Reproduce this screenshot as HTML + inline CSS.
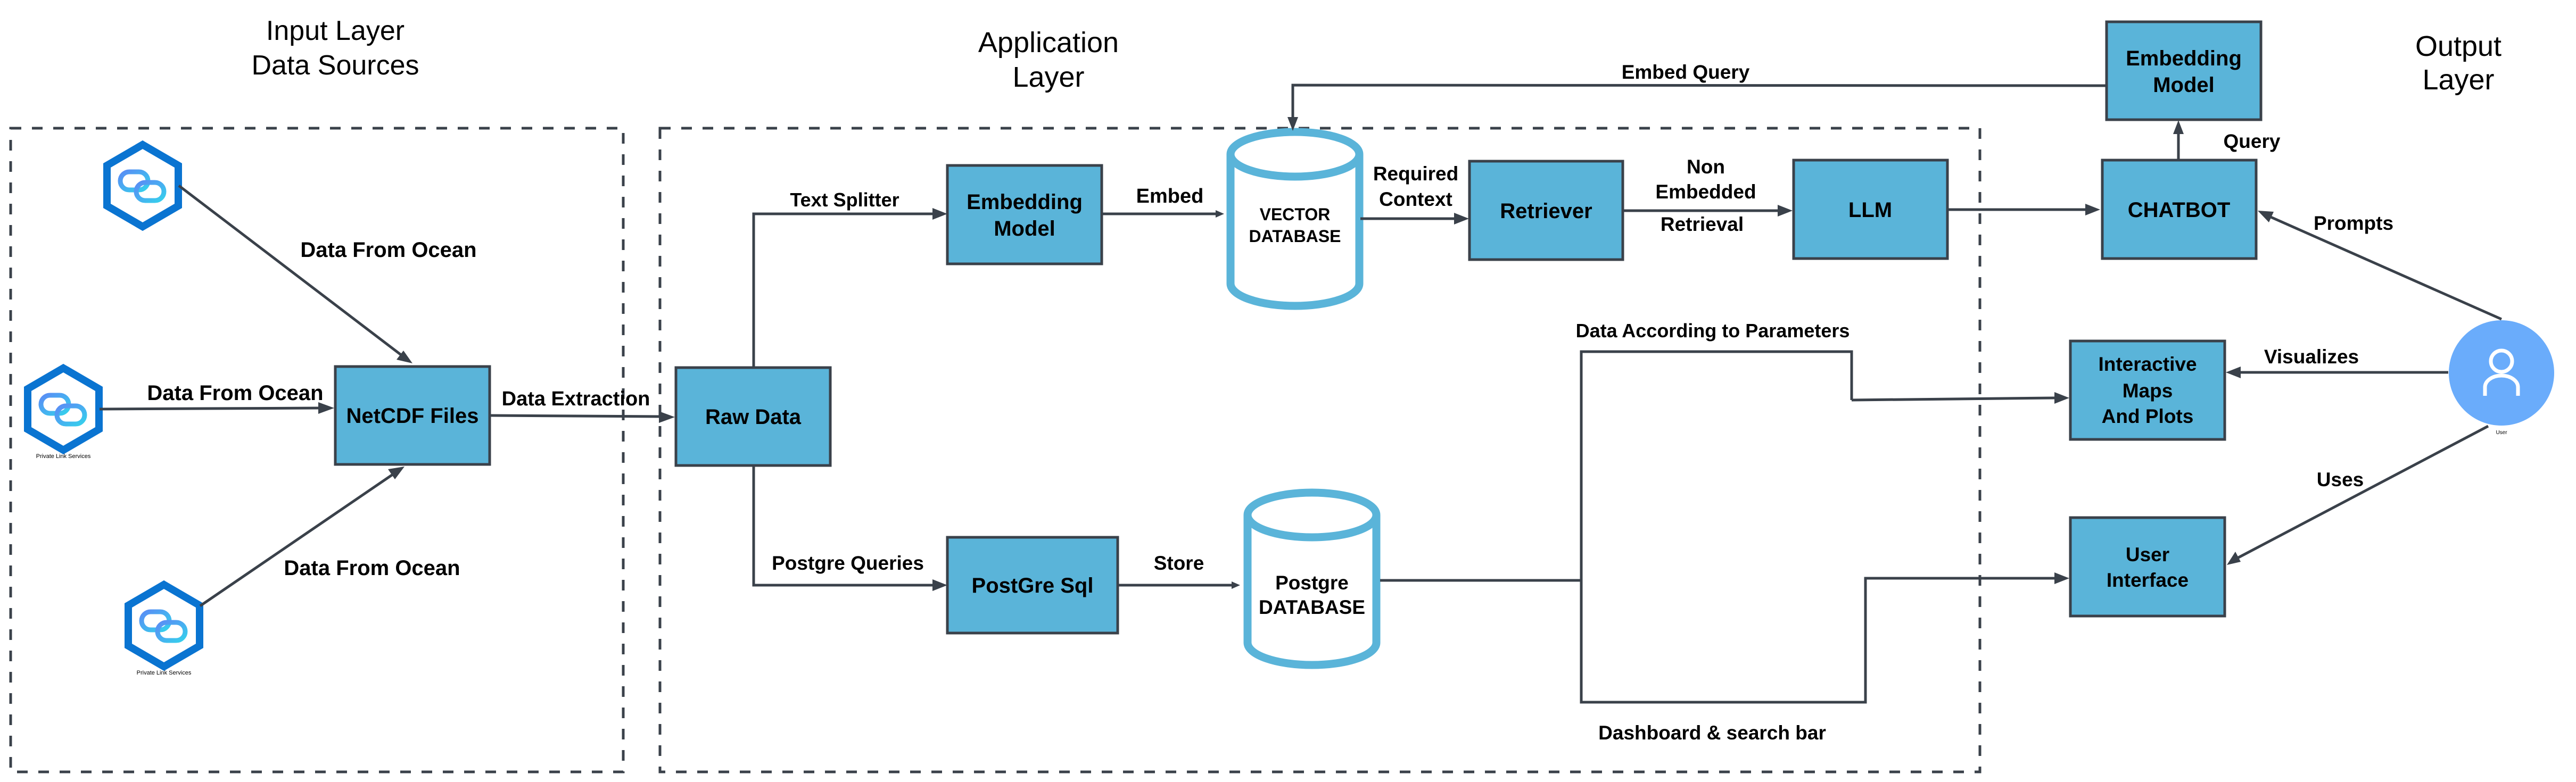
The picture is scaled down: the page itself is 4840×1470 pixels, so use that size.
<!DOCTYPE html>
<html><head><meta charset="utf-8"><style>
html,body{margin:0;padding:0;background:#fff;}
svg{display:block;}
text{font-family:"Liberation Sans",sans-serif;fill:#000;}
.b{font-weight:bold;}
</style></head><body>
<svg width="4840" height="1470" viewBox="0 0 4840 1470" xmlns="http://www.w3.org/2000/svg">
<defs>
<linearGradient id="lg" x1="0" y1="0" x2="1" y2="1"><stop offset="0" stop-color="#5a8cf5"/><stop offset="1" stop-color="#35d0ec"/></linearGradient>
<g id="hex">
<polygon points="0,-77 67,-38 67,38 0,77 -67,38 -67,-38" fill="#fff" stroke="#0a74d1" stroke-width="14"/>
<rect x="-42" y="-26" width="52" height="34" rx="17" fill="none" stroke="url(#lg)" stroke-width="9"/>
<rect x="-12" y="-6" width="52" height="34" rx="17" fill="none" stroke="url(#lg)" stroke-width="9"/>
</g>
</defs>
<style>
.ln{stroke:#3a414a;stroke-width:5;fill:none;}
.bx{fill:#5ab4d9;stroke:#3a414a;stroke-width:5;}
.ah{fill:#3a414a;}
.cy{fill:#fff;stroke:#5ab4d9;stroke-width:15;}
.dash{fill:none;stroke:#3a414a;stroke-width:5;stroke-dasharray:20 20;}
</style>

<text x="630" y="75" font-size="52" text-anchor="middle">Input Layer</text>
<text x="630" y="140" font-size="52" text-anchor="middle">Data Sources</text>
<text x="1970" y="98" font-size="54" text-anchor="middle">Application</text>
<text x="1970" y="163" font-size="54" text-anchor="middle">Layer</text>
<text x="4619" y="105" font-size="54" text-anchor="middle">Output</text>
<text x="4619" y="168" font-size="54" text-anchor="middle">Layer</text>

<rect class="dash" x="20" y="241" width="1151" height="1210"/>
<rect class="dash" x="1240" y="241" width="2480" height="1210"/>

<use href="#hex" x="268" y="349"/>
<use href="#hex" x="119" y="769"/>
<use href="#hex" x="308" y="1176"/>
<text x="119" y="861" font-size="11" text-anchor="middle">Private Link Services</text>
<text x="308" y="1268" font-size="11" text-anchor="middle">Private Link Services</text>

<line class="ln" x1="336" y1="349" x2="760" y2="672"/>
<polygon class="ah" points="775,683 745,676 758,659"/>
<text class="b" x="730" y="483" font-size="40" text-anchor="middle">Data From Ocean</text>
<line class="ln" x1="187" y1="769" x2="600" y2="767"/>
<polygon class="ah" points="628,767 598,756 598,778"/>
<text class="b" x="442" y="752" font-size="40" text-anchor="middle">Data From Ocean</text>
<line class="ln" x1="376" y1="1139" x2="745" y2="887"/>
<polygon class="ah" points="760,877 742,901 729,882"/>
<text class="b" x="699" y="1081" font-size="40" text-anchor="middle">Data From Ocean</text>

<rect class="bx" x="630" y="689" width="290" height="184"/>
<text class="b" x="775" y="795" font-size="40" text-anchor="middle">NetCDF Files</text>

<line class="ln" x1="922" y1="781" x2="1240" y2="783"/>
<polygon class="ah" points="1268,784 1238,773 1238,795"/>
<text class="b" x="1082" y="762" font-size="38" text-anchor="middle">Data Extraction</text>

<rect class="bx" x="1270" y="691" width="290" height="184"/>
<text class="b" x="1415" y="797" font-size="40" text-anchor="middle">Raw Data</text>

<polyline class="ln" points="1416,691 1416,402 1755,402"/>
<polygon class="ah" points="1780,402 1752,391 1752,413"/>
<text class="b" x="1587" y="388" font-size="36" text-anchor="middle">Text Splitter</text>

<rect class="bx" x="1780" y="311" width="290" height="185"/>
<text class="b" x="1925" y="393" font-size="40" text-anchor="middle">Embedding</text>
<text class="b" x="1925" y="443" font-size="40" text-anchor="middle">Model</text>

<line class="ln" x1="2070" y1="402" x2="2285" y2="402"/>
<polygon class="ah" points="2300,402 2284,395 2284,409"/>
<text class="b" x="2198" y="381" font-size="38" text-anchor="middle">Embed</text>

<path class="cy" d="M2312,290 L2312,533 A121,42 0 0 0 2554,533 L2554,290"/>
<ellipse class="cy" cx="2433" cy="290" rx="121" ry="42"/>
<text class="b" x="2433" y="414" font-size="32" text-anchor="middle">VECTOR</text>
<text class="b" x="2433" y="455" font-size="32" text-anchor="middle">DATABASE</text>

<line class="ln" x1="2556" y1="411" x2="2735" y2="411"/>
<polygon class="ah" points="2760,411 2732,400 2732,422"/>
<text class="b" x="2660" y="339" font-size="37" text-anchor="middle">Required</text>
<text class="b" x="2660" y="387" font-size="37" text-anchor="middle">Context</text>

<rect class="bx" x="2761" y="303" width="288" height="185"/>
<text class="b" x="2905" y="410" font-size="40" text-anchor="middle">Retriever</text>

<line class="ln" x1="3049" y1="396" x2="3342" y2="396"/>
<polygon class="ah" points="3368,396 3340,385 3340,407"/>
<text class="b" x="3205" y="326" font-size="37" text-anchor="middle">Non</text>
<text class="b" x="3205" y="373" font-size="37" text-anchor="middle">Embedded</text>
<text class="b" x="3198" y="434" font-size="37" text-anchor="middle">Retrieval</text>

<rect class="bx" x="3370" y="301" width="289" height="185"/>
<text class="b" x="3514" y="408" font-size="40" text-anchor="middle">LLM</text>

<line class="ln" x1="3659" y1="394" x2="3920" y2="394"/>
<polygon class="ah" points="3946,394 3918,383 3918,405"/>

<rect class="bx" x="3950" y="301" width="289" height="185"/>
<text class="b" x="4094" y="408" font-size="40" text-anchor="middle">CHATBOT</text>

<line class="ln" x1="4093" y1="301" x2="4093" y2="250"/>
<polygon class="ah" points="4093,226 4083,252 4103,252"/>
<text class="b" x="4231" y="278" font-size="37" text-anchor="middle">Query</text>

<rect class="bx" x="3958" y="41" width="290" height="184"/>
<text class="b" x="4103" y="123" font-size="40" text-anchor="middle">Embedding</text>
<text class="b" x="4103" y="173" font-size="40" text-anchor="middle">Model</text>

<polyline class="ln" points="3958,161 2429,160 2429,222"/>
<polygon class="ah" points="2429,246 2419,220 2439,220"/>
<text class="b" x="3167" y="148" font-size="37" text-anchor="middle">Embed Query</text>

<polyline class="ln" points="1416,875 1416,1100 1755,1100"/>
<polygon class="ah" points="1780,1100 1752,1089 1752,1111"/>
<text class="b" x="1593" y="1071" font-size="37" text-anchor="middle">Postgre Queries</text>

<rect class="bx" x="1780" y="1010" width="320" height="180"/>
<text class="b" x="1940" y="1114" font-size="40" text-anchor="middle">PostGre Sql</text>

<line class="ln" x1="2100" y1="1100" x2="2315" y2="1100"/>
<polygon class="ah" points="2330,1100 2314,1093 2314,1107"/>
<text class="b" x="2215" y="1071" font-size="37" text-anchor="middle">Store</text>

<path class="cy" d="M2344,968 L2344,1208 A121,42 0 0 0 2586,1208 L2586,968"/>
<ellipse class="cy" cx="2465" cy="968" rx="121" ry="42"/>
<text class="b" x="2465" y="1108" font-size="37" text-anchor="middle">Postgre</text>
<text class="b" x="2465" y="1154" font-size="37" text-anchor="middle">DATABASE</text>

<line class="ln" x1="2593" y1="1091" x2="2971" y2="1091"/>
<polyline class="ln" points="3479,752 3479,661 2971,661 2971,1320 3505,1320 3505,1087 3860,1087"/>
<polyline class="ln" points="3479,752 3860,748"/>
<polygon class="ah" points="3888,748 3860,737 3860,759"/>
<polygon class="ah" points="3888,1087 3860,1076 3860,1098"/>
<text class="b" x="3218" y="634" font-size="36" text-anchor="middle">Data According to Parameters</text>
<text class="b" x="3217" y="1390" font-size="37" text-anchor="middle">Dashboard &amp; search bar</text>

<rect class="bx" x="3890" y="641" width="290" height="185"/>
<text class="b" x="4035" y="697" font-size="37" text-anchor="middle">Interactive</text>
<text class="b" x="4035" y="747" font-size="37" text-anchor="middle">Maps</text>
<text class="b" x="4035" y="795" font-size="37" text-anchor="middle">And Plots</text>

<rect class="bx" x="3890" y="973" width="290" height="185"/>
<text class="b" x="4035" y="1055" font-size="37" text-anchor="middle">User</text>
<text class="b" x="4035" y="1103" font-size="37" text-anchor="middle">Interface</text>

<ellipse cx="4700" cy="701" rx="99" ry="99" fill="#6aacfb"/>
<circle cx="4700" cy="679" r="20" fill="none" stroke="#fff" stroke-width="7"/>
<path d="M4669,744 L4669,728 A31,22 0 0 1 4731,728 L4731,744" fill="none" stroke="#fff" stroke-width="7"/>
<text x="4700" y="816" font-size="10" text-anchor="middle">User</text>

<line class="ln" x1="4700" y1="600" x2="4262" y2="406"/>
<polygon class="ah" points="4242,396 4272,398 4263,418"/>
<text class="b" x="4422" y="432" font-size="37" text-anchor="middle">Prompts</text>

<line class="ln" x1="4600" y1="700" x2="4205" y2="700"/>
<polygon class="ah" points="4182,700 4210,689 4210,711"/>
<text class="b" x="4343" y="683" font-size="37" text-anchor="middle">Visualizes</text>

<line class="ln" x1="4675" y1="801" x2="4202" y2="1050"/>
<polygon class="ah" points="4184,1062 4200,1037 4210,1056"/>
<text class="b" x="4397" y="914" font-size="37" text-anchor="middle">Uses</text>
</svg>
</body></html>
